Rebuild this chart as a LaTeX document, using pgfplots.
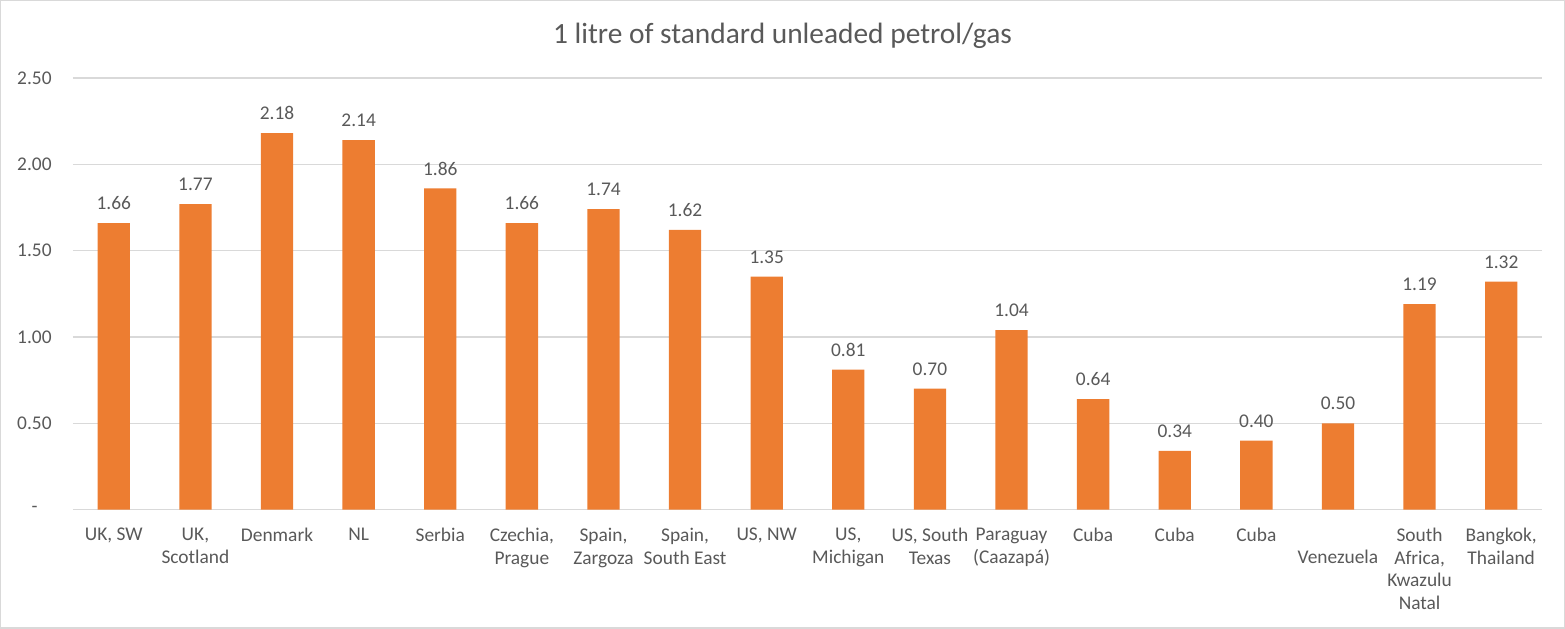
\documentclass[border=0pt]{standalone}
\usepackage{fontspec}
\setmainfont{Carlito}
\usepackage{pgfplots}
\pgfplotsset{compat=1.18}
\definecolor{barorange}{HTML}{ED7D31}
\definecolor{txtgray}{HTML}{595959}
\definecolor{gridgray}{HTML}{D9D9D9}
\newcommand{\lbl}{\fontsize{9.7}{11.35}\selectfont}
\begin{document}
\begin{tikzpicture}
\begin{axis}[
  scale only axis, width=734.5pt, height=215.8pt,
  xmin=-0.5, xmax=17.5, ymin=0, ymax=2.5,
  ybar, bar width=16.15pt,
  axis line style={draw=none},
  major tick length=0pt,
  ytick={0,0.5,1,1.5,2,2.5},
  yticklabels={-\rule{7pt}{0pt},0.50,1.00,1.50,2.00,2.50},
  ymajorgrids, grid style={gridgray, line width=0.7pt},
  xtick={0,...,17},
  xticklabels={{UK, SW},{UK,\\Scotland},Denmark,NL,Serbia,{Czechia,\\Prague},
    {Spain,\\Zargoza},{Spain,\\South East},{US, NW},{US,\\Michigan},{US, South\\Texas},
    {Paraguay\\(Caazapá)},Cuba,Cuba,Cuba,{\phantom{V}\\Venezuela},
    {South\\Africa,\\Kwazulu\\Natal},{Bangkok,\\Thailand}},
  x tick label style={align=center, anchor=north, inner sep=0pt, yshift=-9pt, font=\lbl, text=txtgray},
  y tick label style={anchor=east, inner sep=0pt, xshift=-10.5pt, font=\lbl, text=txtgray},
  nodes near coords={\pgfmathprintnumber[fixed,fixed zerofill,precision=2,assume math mode=true]{\pgfplotspointmeta}},
  every node near coord/.append style={anchor=base, inner sep=0pt, yshift=6.7pt, font=\lbl, text=txtgray},
]
\addplot[fill=barorange, draw=none] coordinates {
  (0,1.66) (1,1.77) (2,2.18) (3,2.14) (4,1.86) (5,1.66)
  (6,1.74) (7,1.62) (8,1.35) (9,0.81) (10,0.70) (11,1.04)
  (12,0.64) (13,0.34) (14,0.40) (15,0.50) (16,1.19) (17,1.32)
};
\end{axis}
\node[anchor=base, text=txtgray, font=\fontsize{14.7}{16}\selectfont, inner sep=0pt]
  at ([xshift=-12.5pt,yshift=17pt]current axis.north) {1 litre of standard unleaded petrol/gas};
\draw[gridgray, line width=0.75pt] ([shift={(-36.125pt,-59.125pt)}]current axis.south west)
  rectangle ([shift={(11.125pt,38.625pt)}]current axis.north east);
\end{tikzpicture}
\end{document}
